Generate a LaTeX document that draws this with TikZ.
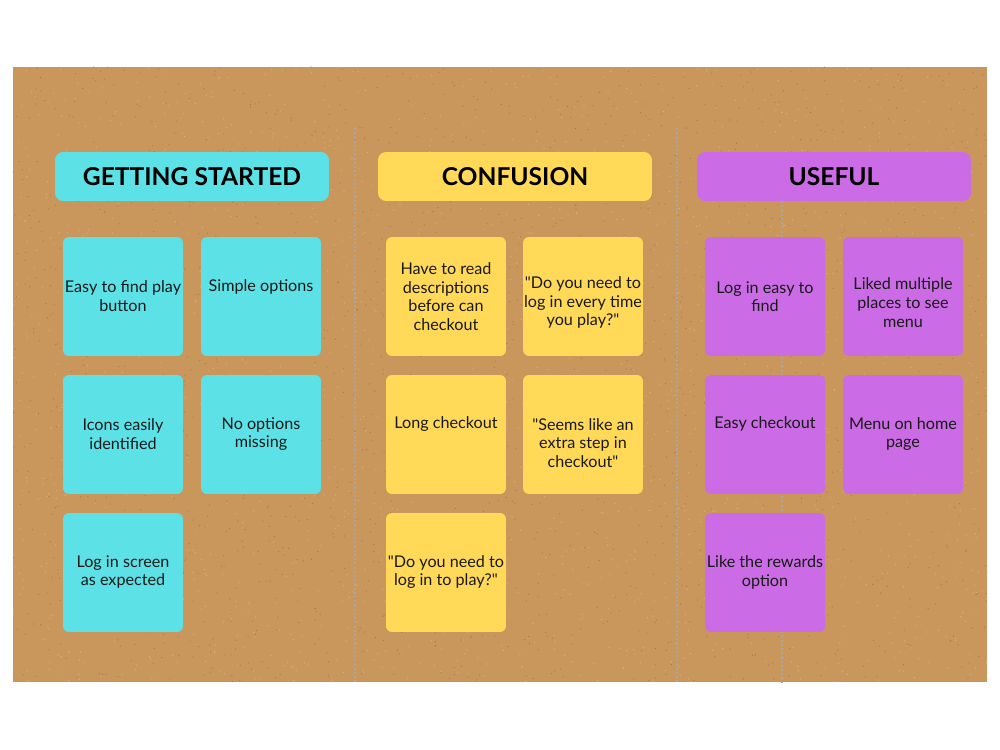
\documentclass[tikz,border=0pt]{standalone}
\usepackage{fontspec}
\setmainfont{Lato}[Ligatures=TeXOff]
\usetikzlibrary{positioning}
\definecolor{cork}{HTML}{C9975C}
\definecolor{corklight}{HTML}{DDB47F}
\definecolor{corkdark}{HTML}{A87745}
\definecolor{notecyan}{HTML}{5CE1E6}
\definecolor{noteyellow}{HTML}{FFD957}
\definecolor{notepurple}{HTML}{CB6CE6}
\definecolor{pinline}{HTML}{A9A7A2}

\begin{document}
\begin{tikzpicture}[
    x=0.02cm, y=-0.02cm,
    header/.style={
        rectangle, rounded corners=0.16cm,
        minimum width=5.48cm, minimum height=0.98cm,
        inner sep=0pt,
        font=\fontsize{14}{16}\selectfont\bfseries
    },
    note/.style={
        rectangle, rounded corners=0.12cm,
        minimum width=2.4cm, minimum height=2.38cm,
        inner sep=0pt
    },
    notetext/.style={
        align=center, inner sep=0pt,
        text=black!90,
        font=\fontsize{9.2}{10.6}\selectfont
    },
    divider/.style={
        draw=pinline, line width=0.6pt,
        dash pattern=on 1.2pt off 1.2pt
    }
]
\useasboundingbox (0,0) rectangle (1000,750);
\fill[white] (0,0) rectangle (1000,750);

% cork board
\fill[cork] (13,67) rectangle (987,682);
\pgfmathsetseed{42}
\foreach \i in {1,...,1800}{
    \pgfmathsetmacro{\px}{13+974*rnd}
    \pgfmathsetmacro{\py}{67+615*rnd}
    \fill[corklight] (\px,\py) circle[radius=0.35pt];
}
\foreach \i in {1,...,1800}{
    \pgfmathsetmacro{\px}{13+974*rnd}
    \pgfmathsetmacro{\py}{67+615*rnd}
    \fill[corkdark] (\px,\py) circle[radius=0.35pt];
}

% column dividers
\coordinate (d1a) at (355,128);
\coordinate (d1b) at (355,682);
\coordinate (d2a) at (677,128);
\coordinate (d2b) at (677,682);
\coordinate (d3a) at (782,201);
\coordinate (d3b) at (782,682);
\draw[divider] (d1a) -- (d1b);
\draw[divider] (d2a) -- (d2b);
\draw[divider] (d3a) -- (d3b);

% headers
\node[header, fill=notecyan] (hstart) at (192,176.5) {GETTING STARTED};
\node[header, fill=noteyellow] (hconf) at (515,176.5) {CONFUSION};
\node[header, fill=notepurple] (huse) at (834,176.5) {USEFUL};

% getting started
\node[note, fill=notecyan] (s1) at (123,296.5) {};
\node[note, fill=notecyan] (s2) at (261,296.5) {};
\node[note, fill=notecyan] (s3) at (123,434.5) {};
\node[note, fill=notecyan] (s4) at (261,434.5) {};
\node[note, fill=notecyan] (s5) at (123,572.5) {};
\node[notetext] (t1) at (123,296) {Easy to find play\\button};
\node[notetext] (t2) at (261,287) {Simple options};
\node[notetext] (t3) at (123,434) {Icons easily\\identified};
\node[notetext] (t4) at (261,434) {No options\\missing};
\node[notetext] (t5) at (123,572) {Log in screen\\as expected};

% confusion
\node[note, fill=noteyellow] (c1) at (446,296.5) {};
\node[note, fill=noteyellow] (c2) at (583,296.5) {};
\node[note, fill=noteyellow] (c3) at (446,434.5) {};
\node[note, fill=noteyellow] (c4) at (583,434.5) {};
\node[note, fill=noteyellow] (c5) at (446,572.5) {};
\node[notetext] (u1) at (446,296.5) {Have to read\\descriptions\\before can\\checkout};
\node[notetext] (u2) at (583,302.5) {"Do you need to\\log in every time\\you play?"};
\node[notetext] (u3) at (446,424) {Long checkout};
\node[notetext] (u4) at (583,443) {"Seems like an\\extra step in\\checkout"};
\node[notetext] (u5) at (446,572) {"Do you need to\\log in to play?"};

% useful
\node[note, fill=notepurple] (p1) at (765,296.5) {};
\node[note, fill=notepurple] (p2) at (903,296.5) {};
\node[note, fill=notepurple] (p3) at (765,434.5) {};
\node[note, fill=notepurple] (p4) at (903,434.5) {};
\node[note, fill=notepurple] (p5) at (765,572.5) {};
\node[notetext] (v1) at (765,296.5) {Log in easy to\\find};
\node[notetext] (v2) at (903,302.5) {Liked multiple\\places to see\\menu};
\node[notetext] (v3) at (765,424) {Easy checkout};
\node[notetext] (v4) at (903,434) {Menu on home\\page};
\node[notetext] (v5) at (765,572.5) {Like the rewards\\option};
\end{tikzpicture}
\end{document}
